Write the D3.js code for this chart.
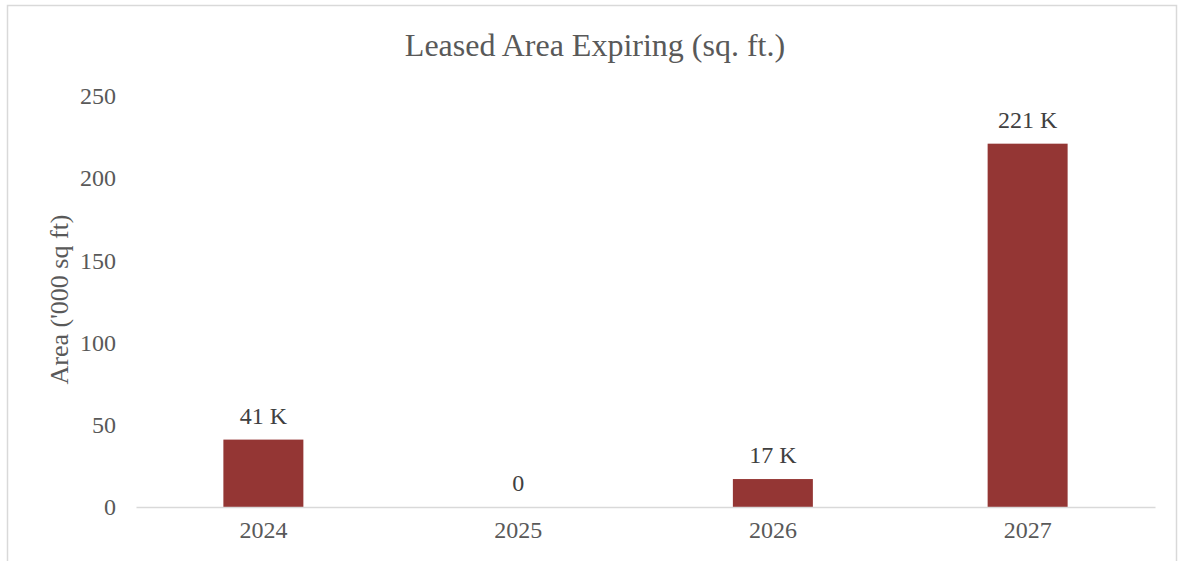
<!DOCTYPE html>
<html>
<head>
<meta charset="utf-8">
<script src="https://cdn.jsdelivr.net/npm/d3@7"></script>
<style>
    body { margin: 0; background: #fff; }
    text { font-family: "Liberation Serif", "Times New Roman", serif; }
</style>
</head>
<body>
<div id="chart"></div>
<script>
"use strict"
// Data
var years = ["2024", "2025", "2026", "2027"];
var areaValues = [41, 0, 17, 221];           // '000 sq ft
var valueLabels = ["41 K", "0", "17 K", "221 K"];
var yTicks = [0, 50, 100, 150, 200, 250];

var width = 1184;
var height = 561;
var margin = { top: 96, right: 29, bottom: 54, left: 136 };
var drawWidth = width - margin.left - margin.right;
var drawHeight = height - margin.top - margin.bottom;

var svg = d3.select("#chart").append("svg")
    .attr("width", width)
    .attr("height", height);

// Outer chart border (bottom edge runs off the picture)
svg.append("rect")
    .attr("x", 7.5).attr("y", 5.5)
    .attr("width", 1169).attr("height", 600)
    .attr("fill", "none")
    .attr("stroke", "#d9d9d9")
    .attr("stroke-width", 1.5);

var xScale = d3.scaleBand()
    .domain(years)
    .range([0, drawWidth])
    .paddingInner(0.686)
    .paddingOuter(0.343);

var yScale = d3.scaleLinear()
    .domain([0, 250])
    .range([drawHeight, 0]);

var g = svg.append("g")
    .attr("transform", "translate(" + margin.left + "," + margin.top + ")");

// Title
svg.append("text")
    .attr("x", 595)
    .attr("y", 56)
    .attr("text-anchor", "middle")
    .attr("fill", "#595959")
    .style("font-size", "32px")
    .text("Leased Area Expiring (sq. ft.)");

// Y axis (no line, labels only)
var yAxis = d3.axisLeft(yScale).tickValues(yTicks).tickSize(0).tickPadding(20);
g.append("g").attr("class", "y axis").call(yAxis)
    .call(function (s) { s.select(".domain").remove(); })
    .selectAll("text")
    .attr("fill", "#595959")
    .style("font-size", "24px");

// Y axis title
svg.append("text")
    .attr("transform", "translate(68," + (margin.top + drawHeight / 2 - 2) + ") rotate(-90)")
    .attr("text-anchor", "middle")
    .attr("fill", "#595959")
    .style("font-size", "26px")
    .text("Area ('000 sq ft)");

// Bars
g.selectAll(".bar").data(areaValues).enter()
    .append("rect")
    .attr("class", "bar")
    .attr("x", function (d, i) { return xScale(years[i]); })
    .attr("width", xScale.bandwidth())
    .attr("y", function (d) { return yScale(d); })
    .attr("height", function (d) { return drawHeight - yScale(d); })
    .attr("fill", "#943634");

// Data labels
g.selectAll(".valueLabel").data(areaValues).enter()
    .append("text")
    .attr("class", "valueLabel")
    .attr("x", function (d, i) { return xScale(years[i]) + xScale.bandwidth() / 2; })
    .attr("y", function (d) { return yScale(d) - 16; })
    .attr("text-anchor", "middle")
    .attr("fill", "#404040")
    .style("font-size", "24px")
    .text(function (d, i) { return valueLabels[i]; });

// X axis
var xAxis = d3.axisBottom(xScale).tickSize(0).tickPadding(14);
var xg = g.append("g").attr("class", "x axis")
    .attr("transform", "translate(0," + drawHeight + ")")
    .call(xAxis);
xg.select(".domain").attr("stroke", "#d9d9d9").attr("stroke-width", 1.5);
xg.selectAll("text")
    .attr("fill", "#595959")
    .style("font-size", "24px");
</script>
</body>
</html>
